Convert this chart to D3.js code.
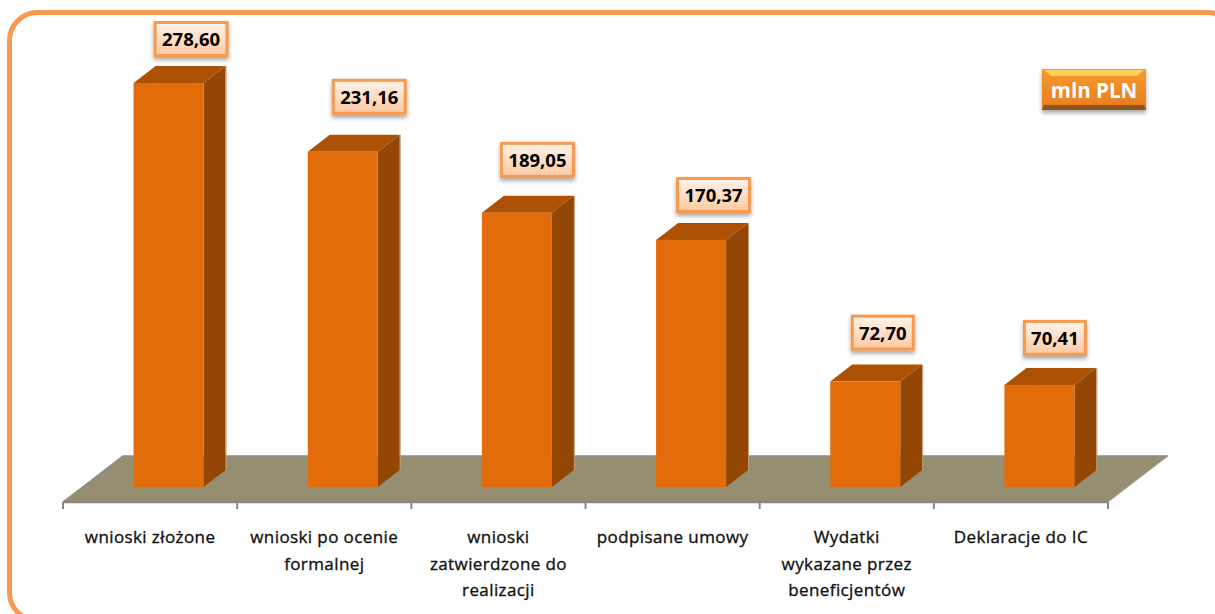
<!DOCTYPE html>
<html><head><meta charset="utf-8">
<script src="https://cdnjs.cloudflare.com/ajax/libs/d3/7.8.5/d3.min.js"></script>
<style>html,body{margin:0;padding:0;background:#fff;overflow:hidden}svg{display:block}</style>
</head><body><div id="c"></div>
<script>
const categories=[["wnioski złożone"],["wnioski po ocenie","formalnej"],["wnioski","zatwierdzone do","realizacji"],["podpisane umowy"],["Wydatki","wykazane przez","beneficjentów"],["Deklaracje do IC"]];
const values=[278.60,231.16,189.05,170.37,72.70,70.41];
const valueLabels=["278,60","231,16","189,05","170,37","72,70","70,41"];
const unitLabel="mln PLN";

const W=1215,H=614;
const svg=d3.select("#c").append("svg").attr("width",W).attr("height",H);
const defs=svg.append("defs");
const g1=defs.append("linearGradient").attr("id","lab").attr("x1",0).attr("y1",0).attr("x2",0).attr("y2",1);
g1.append("stop").attr("offset",0).attr("stop-color","#fff3ea");
g1.append("stop").attr("offset",1).attr("stop-color","#fdc9a0");
const g2=defs.append("linearGradient").attr("id","btn").attr("x1",0).attr("y1",0).attr("x2",0).attr("y2",1);
g2.append("stop").attr("offset",0).attr("stop-color","#f79a2e");
g2.append("stop").attr("offset",.85).attr("stop-color","#e9801f");
g2.append("stop").attr("offset",1).attr("stop-color","#d9761c");
const f=defs.append("filter").attr("id","sh").attr("x","-20%").attr("y","-20%").attr("width","140%").attr("height","160%");
f.append("feDropShadow").attr("dx",0).attr("dy",3).attr("stdDeviation",2).attr("flood-color","#000").attr("flood-opacity",.35);

// frame
svg.append("rect").attr("x",9.5).attr("y",12.5).attr("width",1226).attr("height",608).attr("rx",28)
  .attr("fill","#fff").attr("stroke","#f79a50").attr("stroke-width",5);

const x=d3.scaleBand().domain(d3.range(values.length)).range([63,1108]);
const y=d3.scaleLinear().domain([0,278.6]).range([487,83]);
const axisY=502, dx=22, dy=17, floorDx=60, floorDy=46, barW=70, barShift=18.5;
const nudgeX=[22.5,26.5,20.5,22.5,17.5,15.5], nudgeY=[-44,-55,-53,-45,-49,-47];

// floor
const L=x.range()[0],R=x.range()[1];
svg.append("path").attr("d",d3.line()([[L,axisY],[L+floorDx,axisY-floorDy],[R+floorDx,axisY-floorDy],[R,axisY]])+"Z")
  .attr("fill","#968e70");
svg.append("path").attr("d",d3.line()([[L,axisY],[L+floorDx,axisY-floorDy],[R+floorDx,axisY-floorDy]]))
  .attr("fill","none").attr("stroke","#8c8c8c").attr("stroke-width",1.5);
svg.append("path").attr("d",d3.line()([[R+floorDx,axisY-floorDy],[R,axisY]]))
  .attr("fill","none").attr("stroke","#a8a8a0").attr("stroke-width",1);

// axis
const ax=svg.append("g");
ax.append("line").attr("x1",L).attr("x2",R).attr("y1",axisY).attr("y2",axisY).attr("stroke","#878787").attr("stroke-width",2.5);
ax.selectAll("line.t").data(d3.range(values.length+1)).join("line").attr("class","t")
  .attr("x1",i=>L+i*x.step()).attr("x2",i=>L+i*x.step())
  .attr("y1",axisY).attr("y2",axisY+7).attr("stroke","#878787").attr("stroke-width",2);

// bars
const bars=svg.selectAll("g.bar").data(values).join("g").attr("class","bar");
const bx=i=>x(i)+x.step()/2+barShift-barW/2;
bars.append("path").attr("fill","#ad5205").attr("d",(d,i)=>{const a=bx(i),t=y(d);
  return d3.line()([[a,t],[a+dx,t-dy],[a+barW+dx,t-dy],[a+barW,t]])+"Z";});
bars.append("path").attr("fill","#944604").attr("d",(d,i)=>{const a=bx(i)+barW,t=y(d),b=y(0);
  return d3.line()([[a,t],[a+dx,t-dy],[a+dx,b-dy],[a,b]])+"Z";});
bars.append("line").attr("x1",(d,i)=>bx(i)+barW+dx+.5).attr("x2",(d,i)=>bx(i)+barW+dx+.5)
  .attr("y1",d=>y(d)-dy).attr("y2",y(0)-dy).attr("stroke","#c49a78").attr("stroke-width",1);
bars.append("rect").attr("x",(d,i)=>bx(i)).attr("y",d=>y(d)).attr("width",barW).attr("height",d=>y(0)-y(d)).attr("fill","#e36c0a");

// value labels
const vl=svg.selectAll("g.vl").data(values).join("g").attr("class","vl")
  .attr("transform",(d,i)=>`translate(${bx(i)+barW/2+nudgeX[i]},${y(d)+nudgeY[i]})`);
vl.append("rect").attr("x",(d,i)=>i<4?-36:-30.5).attr("y",-16.5).attr("width",(d,i)=>i<4?72:61).attr("height",33)
  .attr("fill","url(#lab)").attr("stroke","#f79a50").attr("stroke-width",3).attr("filter","url(#sh)");
vl.append("text").text((d,i)=>valueLabels[i]).attr("text-anchor","middle").attr("y",7)
  .attr("font-family","'Open Sans',sans-serif").attr("font-size",18.5).attr("font-weight",700).attr("fill","#000");

// category labels
const cl=svg.selectAll("text.cat").data(categories).join("text").attr("class","cat")
  .attr("text-anchor","middle").attr("font-family","'Open Sans',sans-serif").attr("font-size",17).attr("font-weight",400)
  .attr("letter-spacing",.4).attr("fill","#111").attr("stroke","#111").attr("stroke-width",.35);
cl.selectAll("tspan").data((d,i)=>d.map(s=>({s,i}))).join("tspan")
  .attr("x",d=>x(d.i)+x.step()/2).attr("y",(d,j)=>543+j*26.5).text(d=>d.s);

// unit badge
const u=svg.append("g").attr("transform","translate(1042,69)");
u.append("rect").attr("width",104).attr("height",41).attr("fill","url(#btn)").attr("filter","url(#sh)");
u.append("path").attr("d",d3.line()([[2,1],[102,1],[95,7],[9,7]])+"Z").attr("fill","#ffcf5e");
u.append("path").attr("d",d3.line()([[0,41],[104,41],[102,36],[2,36]])+"Z").attr("fill","#8f5520");
u.append("text").text(unitLabel).attr("x",52).attr("y",29).attr("text-anchor","middle")
  .attr("font-family","'Open Sans',sans-serif").attr("font-size",20.5).attr("font-weight",700).attr("fill","#fff");
</script></body></html>
